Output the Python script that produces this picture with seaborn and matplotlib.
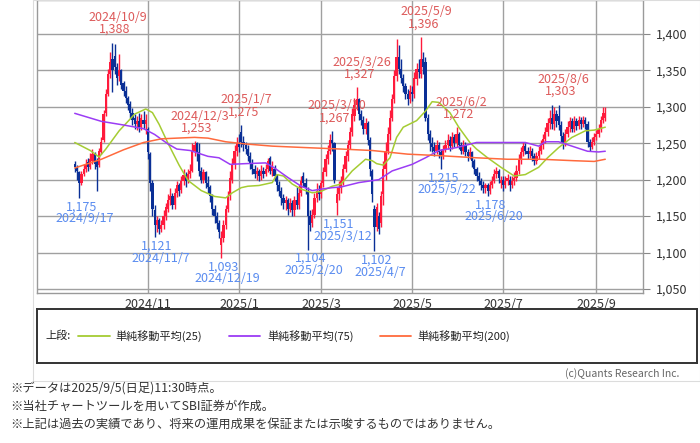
import numpy as np
import pandas as pd
import matplotlib
matplotlib.use("Agg")
import matplotlib.pyplot as plt
import seaborn as sns
from matplotlib.patches import Rectangle

# ---------------- data (trading-day index 0 = 2024/9/12 ... 239 = 2025/9/5) ----------------
opens = [
    1222, 1218, 1210, 1196, 1208, 1214, 1224, 1218, 1226, 1235,
    1225, 1220, 1238, 1255, 1292, 1318, 1345, 1365, 1370, 1355,
    1342, 1350, 1332, 1322, 1312, 1304, 1292, 1284, 1276, 1280,
    1272, 1282, 1276, 1270, 1235, 1195, 1158, 1138, 1145, 1132,
    1138, 1150, 1160, 1172, 1178, 1165, 1182, 1192, 1186, 1198,
    1206, 1198, 1208, 1212, 1240, 1250, 1238, 1212, 1200, 1210,
    1195, 1190, 1178, 1160, 1150, 1140, 1110, 1120, 1138, 1160,
    1178, 1200, 1222, 1240, 1250, 1265, 1252, 1248, 1242, 1232,
    1222, 1215, 1208, 1212, 1205, 1212, 1208, 1215, 1230, 1212,
    1215, 1205, 1192, 1185, 1175, 1168, 1172, 1160, 1168, 1158,
    1172, 1165, 1182, 1205, 1195, 1185, 1150, 1140, 1152, 1175,
    1185, 1180, 1195, 1210, 1228, 1240, 1255, 1250, 1168, 1180,
    1188, 1198, 1215, 1232, 1248, 1265, 1288, 1302, 1310, 1290,
    1282, 1270, 1278, 1255, 1212, 1160, 1135, 1150, 1140, 1180,
    1215, 1240, 1262, 1285, 1310, 1342, 1368, 1352, 1340, 1328,
    1318, 1310, 1320, 1318, 1338, 1352, 1345, 1365, 1362, 1285,
    1262, 1250, 1245, 1240, 1248, 1238, 1232, 1242, 1248, 1255,
    1246, 1258, 1250, 1262, 1248, 1240, 1248, 1238, 1232, 1238,
    1225, 1215, 1205, 1198, 1192, 1188, 1192, 1184, 1192, 1198,
    1208, 1212, 1195, 1200, 1192, 1198, 1200, 1192, 1198, 1202,
    1212, 1228, 1238, 1246, 1240, 1235, 1240, 1232, 1226, 1232,
    1240, 1248, 1256, 1265, 1278, 1284, 1276, 1290, 1288, 1275,
    1260, 1250, 1262, 1272, 1280, 1270, 1280, 1274, 1282, 1276,
    1282, 1276, 1252, 1245, 1252, 1258, 1262, 1270, 1282, 1285,
]
highs = [
    1225, 1220, 1212, 1212, 1222, 1228, 1230, 1236, 1242, 1238,
    1230, 1244, 1258, 1296, 1325, 1352, 1375, 1388, 1386, 1360,
    1372, 1352, 1335, 1328, 1315, 1308, 1298, 1290, 1288, 1292,
    1290, 1294, 1290, 1272, 1238, 1200, 1165, 1150, 1148, 1145,
    1158, 1168, 1180, 1188, 1182, 1188, 1198, 1196, 1205, 1215,
    1210, 1215, 1222, 1250, 1253, 1252, 1250, 1218, 1215, 1212,
    1205, 1192, 1180, 1165, 1155, 1145, 1130, 1145, 1165, 1185,
    1212, 1230, 1248, 1258, 1262, 1275, 1260, 1252, 1248, 1238,
    1228, 1220, 1218, 1215, 1220, 1218, 1222, 1230, 1232, 1225,
    1220, 1208, 1198, 1190, 1180, 1178, 1175, 1175, 1172, 1178,
    1190, 1192, 1205, 1210, 1202, 1190, 1158, 1160, 1182, 1195,
    1192, 1200, 1218, 1235, 1248, 1262, 1267, 1252, 1190, 1198,
    1205, 1222, 1240, 1255, 1272, 1298, 1312, 1327, 1312, 1295,
    1288, 1285, 1280, 1258, 1215, 1165, 1168, 1155, 1185, 1225,
    1252, 1272, 1295, 1318, 1350, 1393, 1385, 1365, 1345, 1332,
    1325, 1330, 1328, 1348, 1360, 1365, 1396, 1375, 1368, 1290,
    1268, 1258, 1252, 1255, 1252, 1242, 1248, 1255, 1262, 1260,
    1265, 1262, 1272, 1265, 1252, 1255, 1252, 1242, 1245, 1240,
    1228, 1218, 1210, 1202, 1198, 1196, 1195, 1198, 1205, 1215,
    1218, 1215, 1205, 1205, 1205, 1208, 1205, 1205, 1210, 1220,
    1235, 1245, 1252, 1250, 1245, 1246, 1244, 1236, 1238, 1246,
    1255, 1262, 1272, 1285, 1295, 1302, 1300, 1296, 1303, 1280,
    1265, 1270, 1280, 1286, 1284, 1288, 1285, 1288, 1286, 1288,
    1286, 1280, 1256, 1258, 1264, 1268, 1276, 1288, 1300, 1300,
]
lows = [
    1210, 1200, 1175, 1192, 1205, 1210, 1212, 1215, 1222, 1215,
    1185, 1218, 1235, 1252, 1288, 1315, 1340, 1320, 1345, 1330,
    1335, 1325, 1315, 1305, 1295, 1285, 1275, 1270, 1268, 1266,
    1268, 1270, 1262, 1228, 1185, 1150, 1121, 1128, 1125, 1128,
    1132, 1145, 1155, 1165, 1160, 1160, 1176, 1178, 1182, 1192,
    1190, 1195, 1202, 1210, 1232, 1225, 1205, 1195, 1196, 1188,
    1182, 1170, 1152, 1140, 1132, 1120, 1093, 1115, 1132, 1155,
    1172, 1195, 1215, 1232, 1238, 1245, 1240, 1235, 1225, 1215,
    1208, 1202, 1200, 1198, 1200, 1202, 1205, 1210, 1208, 1205,
    1198, 1185, 1178, 1165, 1160, 1158, 1152, 1155, 1150, 1150,
    1160, 1160, 1178, 1190, 1180, 1104, 1130, 1135, 1148, 1170,
    1172, 1175, 1190, 1205, 1222, 1235, 1240, 1195, 1151, 1172,
    1182, 1192, 1210, 1225, 1242, 1260, 1280, 1295, 1282, 1275,
    1262, 1262, 1248, 1205, 1170, 1102, 1130, 1125, 1135, 1165,
    1200, 1235, 1255, 1280, 1305, 1335, 1345, 1332, 1320, 1310,
    1302, 1305, 1308, 1312, 1330, 1340, 1340, 1345, 1280, 1255,
    1240, 1238, 1232, 1235, 1230, 1215, 1228, 1238, 1242, 1240,
    1242, 1245, 1245, 1242, 1235, 1235, 1232, 1226, 1228, 1218,
    1208, 1198, 1192, 1186, 1182, 1182, 1178, 1180, 1188, 1195,
    1202, 1195, 1188, 1185, 1188, 1192, 1185, 1188, 1192, 1198,
    1208, 1222, 1232, 1235, 1228, 1230, 1226, 1220, 1222, 1228,
    1235, 1242, 1250, 1260, 1270, 1270, 1268, 1272, 1268, 1252,
    1242, 1246, 1258, 1266, 1265, 1266, 1268, 1270, 1270, 1272,
    1270, 1245, 1240, 1242, 1248, 1254, 1258, 1265, 1278, 1280,
]
closes = [
    1218, 1212, 1195, 1208, 1215, 1222, 1218, 1228, 1235, 1222,
    1218, 1240, 1252, 1290, 1318, 1345, 1362, 1350, 1355, 1340,
    1350, 1330, 1322, 1312, 1302, 1292, 1282, 1276, 1280, 1272,
    1285, 1276, 1282, 1238, 1195, 1160, 1138, 1145, 1132, 1138,
    1150, 1162, 1172, 1178, 1165, 1182, 1192, 1185, 1198, 1206,
    1198, 1208, 1212, 1240, 1248, 1238, 1212, 1200, 1210, 1195,
    1190, 1178, 1160, 1150, 1140, 1128, 1120, 1138, 1160, 1178,
    1202, 1222, 1240, 1250, 1245, 1252, 1248, 1242, 1232, 1222,
    1215, 1208, 1212, 1205, 1212, 1208, 1215, 1225, 1212, 1218,
    1205, 1192, 1185, 1175, 1168, 1172, 1160, 1168, 1158, 1172,
    1165, 1182, 1198, 1195, 1188, 1150, 1138, 1152, 1175, 1185,
    1180, 1195, 1210, 1228, 1240, 1255, 1250, 1200, 1180, 1188,
    1198, 1215, 1232, 1248, 1265, 1290, 1302, 1310, 1290, 1282,
    1270, 1278, 1255, 1215, 1180, 1135, 1162, 1132, 1178, 1215,
    1240, 1262, 1285, 1310, 1342, 1368, 1352, 1340, 1328, 1318,
    1310, 1322, 1318, 1340, 1352, 1348, 1365, 1355, 1285, 1262,
    1250, 1245, 1240, 1248, 1238, 1232, 1242, 1248, 1255, 1246,
    1258, 1250, 1262, 1248, 1240, 1248, 1238, 1232, 1238, 1225,
    1215, 1205, 1198, 1192, 1188, 1192, 1184, 1192, 1198, 1208,
    1212, 1202, 1200, 1192, 1198, 1202, 1192, 1198, 1202, 1212,
    1228, 1238, 1246, 1240, 1235, 1240, 1232, 1226, 1232, 1240,
    1248, 1256, 1265, 1278, 1284, 1276, 1290, 1280, 1275, 1260,
    1250, 1262, 1272, 1280, 1270, 1280, 1274, 1282, 1276, 1282,
    1276, 1252, 1245, 1252, 1258, 1262, 1270, 1282, 1292, 1292,
]

# moving averages (index, value)
ma25_idx = [0, 7, 11, 14, 20, 24, 27, 32, 35, 38, 42, 47, 51, 57, 63, 68, 71, 75, 78, 83,
            89, 91, 94, 98, 102, 107, 111, 116, 120, 125, 131, 134, 136, 139, 142, 145,
            148, 154, 158, 161, 164, 169, 173, 178, 181, 186, 192, 198, 203, 209, 213,
            218, 224, 230, 234, 239]
ma25_val = [1251, 1240, 1231, 1242, 1267, 1280, 1290, 1297, 1292, 1276, 1250, 1220, 1199,
            1185, 1177, 1175, 1182, 1189, 1191, 1192, 1196, 1207, 1205, 1194, 1187, 1182,
            1184, 1191, 1194, 1212, 1228, 1226, 1222, 1220, 1230, 1258, 1272, 1281, 1294,
            1307, 1306, 1292, 1272, 1251, 1242, 1230, 1217, 1205, 1207, 1217, 1230, 1244,
            1258, 1267, 1268, 1272]
ma75_idx = [0, 12, 22, 31, 36, 42, 46, 52, 57, 60, 65, 70, 77, 86, 90, 96, 102, 107, 111,
            116, 120, 128, 137, 143, 152, 158, 164, 172, 181, 192, 203, 209, 212, 218,
            224, 231, 236, 239]
ma75_val = [1291, 1280, 1275, 1270, 1262, 1249, 1242, 1240, 1235, 1232, 1230, 1221, 1222,
            1223, 1216, 1203, 1191, 1185, 1187, 1189, 1190, 1196, 1200, 1212, 1221, 1230,
            1240, 1244, 1251, 1251, 1251, 1246, 1252, 1252, 1246, 1239, 1238, 1239]
ma200_idx = [0, 12, 22, 31, 39, 46, 54, 60, 68, 77, 89, 104, 120, 134, 150, 164, 181, 195,
             210, 225, 234, 239]
ma200_val = [1216, 1228, 1241, 1251, 1256, 1257, 1258, 1257, 1252, 1249, 1246, 1244, 1242,
             1240, 1235, 1233, 1230, 1228, 1228, 1226, 1225, 1228]

hi_idx = [17, 54, 75, 116, 127, 156, 172, 218]
hi_dates = ["2024/10/9", "2024/12/3", "2025/1/7", "2025/3/10", "2025/3/26",
            "2025/5/9", "2025/6/2", "2025/8/6"]
hi_vals = [1388, 1253, 1275, 1267, 1327, 1396, 1272, 1303]

lo_idx = [2, 36, 66, 105, 118, 135, 165, 186]
lo_dates = ["2024/9/17", "2024/11/7", "2024/12/19", "2025/2/20", "2025/3/12",
            "2025/4/7", "2025/5/22", "2025/6/20"]
lo_vals = [1175, 1121, 1093, 1104, 1151, 1102, 1215, 1178]

tick_idx = [33, 74, 111, 152, 193, 235]
tick_labels = ["2024/11", "2025/1", "2025/3", "2025/5", "2025/7", "2025/9"]
y_ticks = [1050, 1100, 1150, 1200, 1250, 1300, 1350, 1400]

legend_labels = ["単純移動平均(25)", "単純移動平均(75)", "単純移動平均(200)"]
notes = ["※データは2025/9/5(日足)11:30時点。",
         "※当社チャートツールを用いてSBI証券が作成。",
         "※上記は過去の実績であり、将来の運用成果を保証または示唆するものではありません。"]

# ---------------- styling ----------------
sns.set_style("white")
plt.rcParams["font.family"] = ["Noto Sans CJK JP", "DejaVu Sans"]

RED = "#ff1a3c"
BLUE = "#0a2f96"
C25 = "#a5cc33"
C75 = "#9b3cf5"
C200 = "#ff6a3d"
GRID = "#a0a0a0"
HI_TXT = "#dd5a5a"
LO_TXT = "#5a8cf0"

W, H = 700, 443
def fx(px):
    return px / W
def fy(py):
    return 1 - py / H

fig = plt.figure(figsize=(7, 4.43), dpi=100)
fig.patch.set_facecolor("white")

# outer panel
fig.patches.append(Rectangle((fx(33), fy(381)), fx(700) - fx(33), fy(0) - fy(381),
                             transform=fig.transFigure, fill=False,
                             edgecolor="#dcdcdc", lw=0.8))

ax = fig.add_axes([fx(37), fy(293), fx(643) - fx(37), 293 / H])
ax.set_facecolor("white")

df = pd.DataFrame({"i": np.arange(len(closes)), "o": opens, "h": highs,
                   "l": lows, "c": closes})
up = df["c"] >= df["o"]
cols = np.where(up, RED, BLUE)

ax.vlines(df["i"], df["l"], df["h"], colors=cols, lw=1.0, zorder=3)
body_bottom = np.minimum(df["o"], df["c"])
body_h = np.maximum(np.abs(df["c"] - df["o"]), 1.5)
ax.bar(df["i"], body_h, bottom=body_bottom, width=1.0, color=cols, linewidth=0, zorder=3)

for xi, yi, cc in [(ma25_idx, ma25_val, C25), (ma75_idx, ma75_val, C75), (ma200_idx, ma200_val, C200)]:
    sns.lineplot(x=xi, y=yi, ax=ax, color=cc, lw=1.1, estimator=None, sort=False,
                 legend=False, zorder=4)

for i, d, v in zip(hi_idx, hi_dates, hi_vals):
    ax.annotate(f"{v:,}", xy=(i, v), xytext=(2.5, 13), textcoords="offset pixels",
                ha="center", va="center", fontsize=9, color=HI_TXT, zorder=5)
    ax.annotate(d, xy=(i, v), xytext=(5, 25), textcoords="offset pixels",
                ha="center", va="center", fontsize=9, color=HI_TXT, zorder=5)
for i, d, v in zip(lo_idx, lo_dates, lo_vals):
    ax.annotate(f"{v:,}", xy=(i, v), xytext=(2.5, -9), textcoords="offset pixels",
                ha="center", va="center", fontsize=9, color=LO_TXT, zorder=5)
    ax.annotate(d, xy=(i, v), xytext=(6, -21), textcoords="offset pixels",
                ha="center", va="center", fontsize=9, color=LO_TXT, zorder=5)

ax.set_xlim(-17, 256)
ax.set_ylim(1044.5, 1446.5)
ax.set_xticks(tick_idx)
ax.set_xticklabels(tick_labels)
ax.set_yticks(y_ticks)
ax.set_yticklabels([f"{v:,}" for v in y_ticks])
ax.yaxis.tick_right()
ax.grid(True, color=GRID, lw=1.0, zorder=0)
ax.set_axisbelow(True)
ax.tick_params(axis="y", direction="out", length=5, width=0.8, color="#888888",
               pad=4, labelsize=9, labelcolor="#333333")
ax.tick_params(axis="x", direction="out", length=3, width=0.8, color="#aaaaaa",
               pad=0.5, labelsize=9, labelcolor="#333333")
for s in ax.spines.values():
    s.set_color("#9a9a9a")
    s.set_linewidth(1.0)
ax.set_xlabel("")
ax.set_ylabel("")

# legend box
lax = fig.add_axes([fx(37), fy(363), fx(697) - fx(37), (363 - 309) / H])
lax.set_xlim(37, 697)
lax.set_ylim(363, 309)
lax.set_xticks([])
lax.set_yticks([])
for s in lax.spines.values():
    s.set_color("#333333")
    s.set_linewidth(1.4)
lax.text(45, 336, "上段:", fontsize=8, color="#222222", va="center", ha="left")
for (x0, x1, tx), cc, lab in zip([(78, 110, 115), (229, 260, 267), (380, 411, 417)],
                                 [C25, C75, C200], legend_labels):
    lax.plot([x0, x1], [336, 336], color=cc, lw=1.3)
    lax.text(tx, 336, lab, fontsize=8, color="#222222", va="center", ha="left")

fig.text(fx(679), fy(374), "(c)Quants Research Inc.", ha="right", va="center",
         fontsize=7.5, color="#666666")
for k, t in enumerate(notes):
    fig.text(fx(10), fy(388 + 18 * k), t, ha="left", va="center", fontsize=8.8,
             color="#333333")

fig.savefig("out.png", dpi=100, facecolor="white")
